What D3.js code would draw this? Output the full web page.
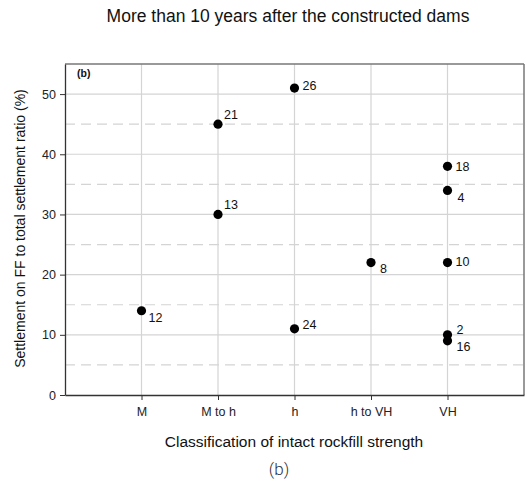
<!DOCTYPE html>
<html>
<head>
<meta charset="utf-8">
<script src="https://cdn.jsdelivr.net/npm/d3@7"></script>
<style>
  body { margin: 0; background: #fff; }
  svg { font-family: "Liberation Sans", Arial, sans-serif; }
</style>
</head>
<body>
<svg id="chart"></svg>
<script>
// categories on the x axis
const categories = ['M', 'M to h', 'h', 'h to VH', 'VH'];
// each point: category, ratio (%), dam label
const pointCategory = ['M', 'M to h', 'M to h', 'h', 'h', 'h to VH', 'VH', 'VH', 'VH', 'VH', 'VH'];
const pointValue = [14, 45, 30, 51, 11, 22, 38, 34, 22, 10, 9];
const pointLabel = ['12', '21', '13', '26', '24', '8', '18', '4', '10', '2', '16'];
// label offsets relative to the dot (px)
const labelDx = [7, 6, 6, 8, 8, 9, 8, 10, 8, 9, 9];
const labelDy = [7, -10, -10, -2, -4, 6, 0, 7, -1, -5, 6];
const majorTicks = [0, 10, 20, 30, 40, 50];
const minorTicks = [5, 15, 25, 35, 45];

const width = 527, height = 486;
const margin = {top: 64, right: 3, bottom: 91, left: 65};
const innerW = width - margin.left - margin.right;
const innerH = height - margin.top - margin.bottom;

const svg = d3.select('#chart').attr('width', width).attr('height', height);
const g = svg.append('g').attr('transform', `translate(${margin.left},${margin.top})`);

const xScale = d3.scaleLinear().domain([0, categories.length + 1]).range([0, innerW]);
const xPos = c => xScale(categories.indexOf(c) + 1);
const yScale = d3.scaleLinear().domain([0, 55]).range([innerH, 0]);

// grid: dashed at the half steps, solid at the major ticks
g.selectAll('.minor-grid').data(minorTicks).join('line')
  .attr('class', 'minor-grid')
  .attr('x1', 0).attr('x2', innerW)
  .attr('y1', d => yScale(d)).attr('y2', d => yScale(d))
  .attr('stroke', '#d4d4d4').attr('stroke-width', 1.2)
  .attr('stroke-dasharray', '10,6');

g.selectAll('.major-grid').data(majorTicks.slice(1)).join('line')
  .attr('class', 'major-grid')
  .attr('x1', 0).attr('x2', innerW)
  .attr('y1', d => yScale(d)).attr('y2', d => yScale(d))
  .attr('stroke', '#d4d4d4').attr('stroke-width', 1.2);

g.selectAll('.x-grid').data(categories).join('line')
  .attr('class', 'x-grid')
  .attr('x1', d => xPos(d)).attr('x2', d => xPos(d))
  .attr('y1', 0).attr('y2', innerH)
  .attr('stroke', '#d4d4d4').attr('stroke-width', 1.2);

// frame: top and right in grey
g.append('line').attr('x1', 0).attr('x2', innerW).attr('y1', 0).attr('y2', 0)
  .attr('stroke', '#777').attr('stroke-width', 1.5);
g.append('line').attr('x1', innerW).attr('x2', innerW).attr('y1', 0).attr('y2', innerH)
  .attr('stroke', '#777').attr('stroke-width', 1.5);

// axes
const yAxis = d3.axisLeft(yScale).tickValues(majorTicks).tickSize(5).tickSizeOuter(0).tickPadding(4);
const yAxisG = g.append('g').call(yAxis);
yAxisG.select('.domain').attr('stroke', '#333').attr('stroke-width', 1.3);
yAxisG.selectAll('.tick line').attr('stroke', '#333');
yAxisG.selectAll('.tick text').attr('font-size', 12.5).attr('fill', '#222')
  .attr('font-family', '"Liberation Sans", Arial, sans-serif');

const xAxis = d3.axisBottom(xScale)
  .tickValues(d3.range(1, categories.length + 1))
  .tickFormat(i => categories[i - 1])
  .tickSize(5).tickSizeOuter(0).tickPadding(7);
const xAxisG = g.append('g').attr('transform', `translate(0,${innerH})`).call(xAxis);
xAxisG.select('.domain').attr('stroke', '#333').attr('stroke-width', 1.3);
xAxisG.selectAll('.tick line').attr('stroke', '#333');
xAxisG.selectAll('.tick text').attr('font-size', 12.5).attr('fill', '#222')
  .attr('font-family', '"Liberation Sans", Arial, sans-serif');

// points
const points = pointValue.map((v, i) => ({cat: pointCategory[i], value: v, label: pointLabel[i], dx: labelDx[i], dy: labelDy[i]}));

g.selectAll('.dot').data(points).join('circle')
  .attr('class', 'dot')
  .attr('cx', d => xPos(d.cat))
  .attr('cy', d => yScale(d.value))
  .attr('r', 4.6)
  .attr('fill', '#000');

g.selectAll('.dot-label').data(points).join('text')
  .attr('class', 'dot-label')
  .attr('x', d => xPos(d.cat) + d.dx)
  .attr('y', d => yScale(d.value) + d.dy)
  .attr('dy', '0.35em')
  .attr('font-size', 12.5)
  .attr('fill', '#111')
  .text(d => d.label);

// panel tag
g.append('text').attr('x', 12).attr('y', 13)
  .attr('font-size', 10.5).attr('font-weight', 'bold').attr('fill', '#111')
  .text('(b)');

// titles
svg.append('text').attr('x', 288).attr('y', 22)
  .attr('text-anchor', 'middle').attr('font-size', 17.5).attr('fill', '#111')
  .text('More than 10 years after the constructed dams');

svg.append('text')
  .attr('transform', `translate(20,${margin.top + innerH / 2 - 1}) rotate(-90)`)
  .attr('text-anchor', 'middle').attr('dy', '0.35em')
  .attr('font-size', 14).attr('fill', '#111')
  .text('Settlement on FF to total settlement ratio (%)');

svg.append('text').attr('x', 294).attr('y', 447)
  .attr('text-anchor', 'middle').attr('font-size', 15.5).attr('fill', '#111')
  .text('Classification of intact rockfill strength');

svg.append('text').attr('x', 279).attr('y', 475)
  .attr('text-anchor', 'middle').attr('font-size', 17).attr('font-weight', 300)
  .attr('font-family', 'Roboto, sans-serif').attr('fill', '#333')
  .text('(b)');
</script>
</body>
</html>
